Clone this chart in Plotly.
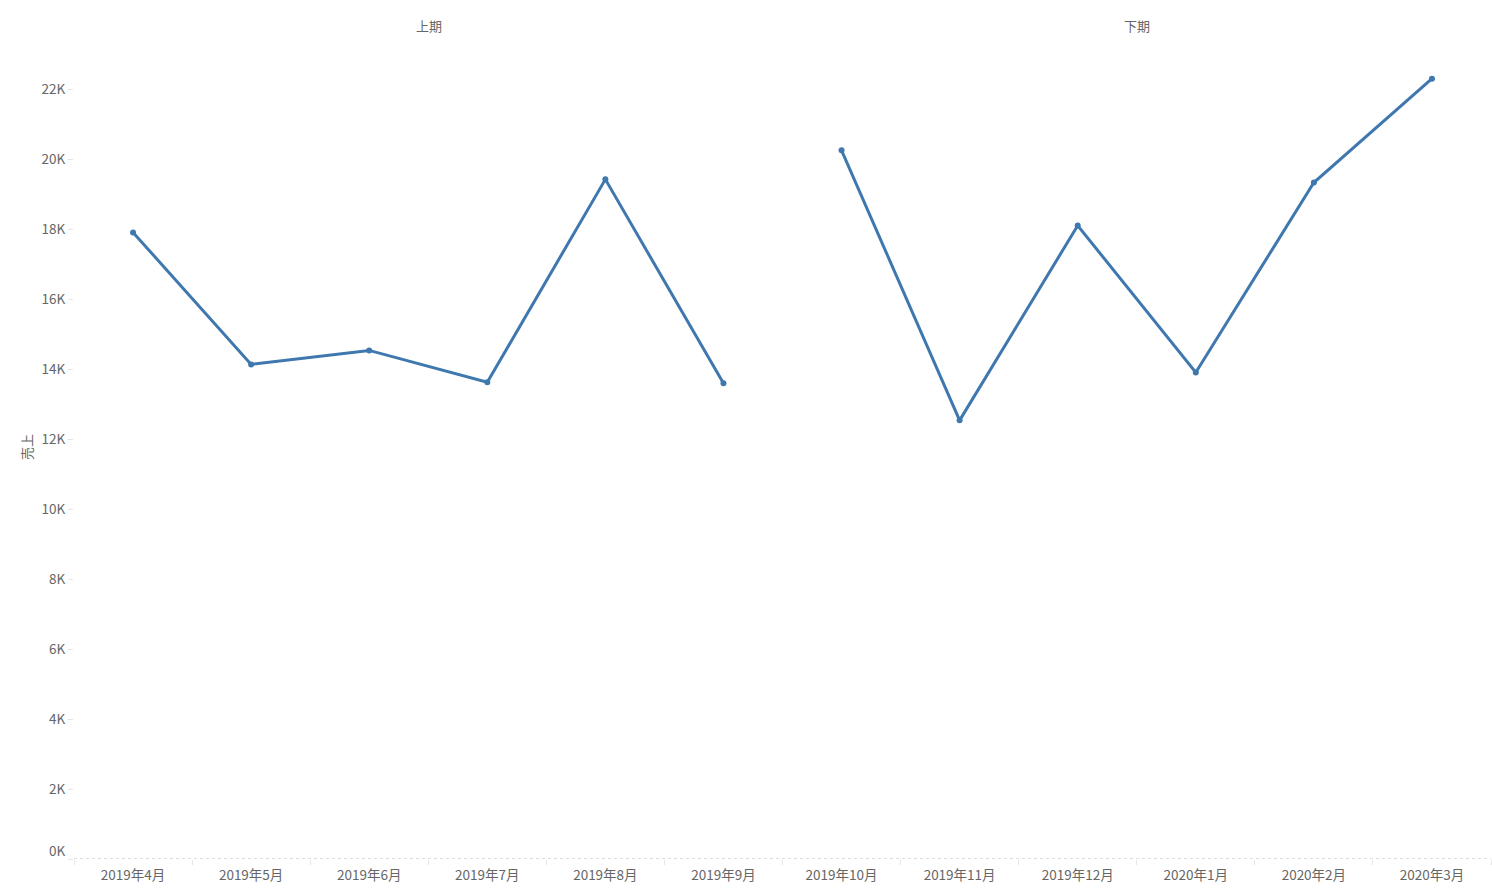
import plotly.graph_objects as go

months = ["2019年4月", "2019年5月", "2019年6月", "2019年7月", "2019年8月", "2019年9月",
          "2019年10月", "2019年11月", "2019年12月", "2020年1月", "2020年2月", "2020年3月"]
first_half_months = months[:6]
second_half_months = months[6:]
first_half_sales = [17914, 14140, 14540, 13630, 19430, 13600]
second_half_sales = [20260, 12540, 18110, 13910, 19340, 22310]
period_labels = ["上期", "下期"]
y_tick_values = [0, 2000, 4000, 6000, 8000, 10000, 12000, 14000, 16000, 18000, 20000, 22000]
y_tick_labels = ["0K", "2K", "4K", "6K", "8K", "10K", "12K", "14K", "16K", "18K", "20K", "22K"]

FONT = "Noto Sans CJK JP, Lato, sans-serif"
BLUE = "#3f77af"
GRAY = "#666666"

W, H = 1492, 888
L, R, T, B = 74, 1, 44, 29
plot_w = W - L - R
plot_h = H - T - B

fig = go.Figure()
for xs, ys, name in [(first_half_months, first_half_sales, period_labels[0]),
                     (second_half_months, second_half_sales, period_labels[1])]:
    fig.add_trace(go.Scatter(
        x=xs, y=ys, mode="lines+markers", name=name,
        line=dict(color=BLUE, width=3),
        marker=dict(color=BLUE, size=6),
        showlegend=False,
    ))

# bottom label "0K" is nudged up like the reference, so hide it from ticktext
shown_tick_text = [""] + y_tick_labels[1:]

fig.update_layout(
    width=W, height=H,
    margin=dict(l=L, r=R, t=T, b=B, pad=0),
    paper_bgcolor="white", plot_bgcolor="white",
    font=dict(family=FONT, size=13, color=GRAY),
    xaxis=dict(
        type="category", categoryorder="array", categoryarray=months,
        range=[-0.5, 11.5], showgrid=False, zeroline=False, showline=False,
        ticks="outside", tickson="boundaries", ticklen=5, tickcolor="#e6e6e6",
        ticklabelstandoff=6,
        tickfont=dict(family=FONT, size=13.5, color=GRAY), automargin=False,
    ),
    yaxis=dict(
        range=[0, 23300], tickvals=y_tick_values, ticktext=shown_tick_text,
        showgrid=False, zeroline=False, showline=False,
        ticks="outside", ticklen=5, tickcolor="#e6e6e6",
        tickfont=dict(family=FONT, size=13.5, color=GRAY), automargin=False,
    ),
)

# dashed baseline
fig.add_shape(type="line", xref="paper", yref="y", x0=0, x1=1, y0=0, y1=0,
              line=dict(color="#b8b8b8", width=1, dash="dot"))

# "0K" label
fig.add_annotation(text=y_tick_labels[0], xref="paper", yref="paper",
                   x=(67 - L) / plot_w, y=(H - B - 850) / plot_h,
                   showarrow=False, font=dict(family=FONT, size=13.5, color=GRAY),
                   xanchor="right", yanchor="middle")

# period headers
fig.add_annotation(text=period_labels[0], xref="paper", yref="paper",
                   x=(429 - L) / plot_w, y=(H - B - 26) / plot_h,
                   showarrow=False, font=dict(family=FONT, size=13, color=GRAY),
                   xanchor="center", yanchor="middle")
fig.add_annotation(text=period_labels[1], xref="paper", yref="paper",
                   x=(1137 - L) / plot_w, y=(H - B - 26) / plot_h,
                   showarrow=False, font=dict(family=FONT, size=13, color=GRAY),
                   xanchor="center", yanchor="middle")

# y-axis title
fig.add_annotation(text="売上", xref="paper", yref="paper",
                   x=(26 - L) / plot_w, y=(H - B - 447) / plot_h,
                   showarrow=False, textangle=-90,
                   font=dict(family=FONT, size=13, color=GRAY),
                   xanchor="center", yanchor="middle")

fig.write_html("out.html", config={"displayModeBar": False},
               post_script="document.body.style.margin='0';document.body.style.overflow='hidden';")
